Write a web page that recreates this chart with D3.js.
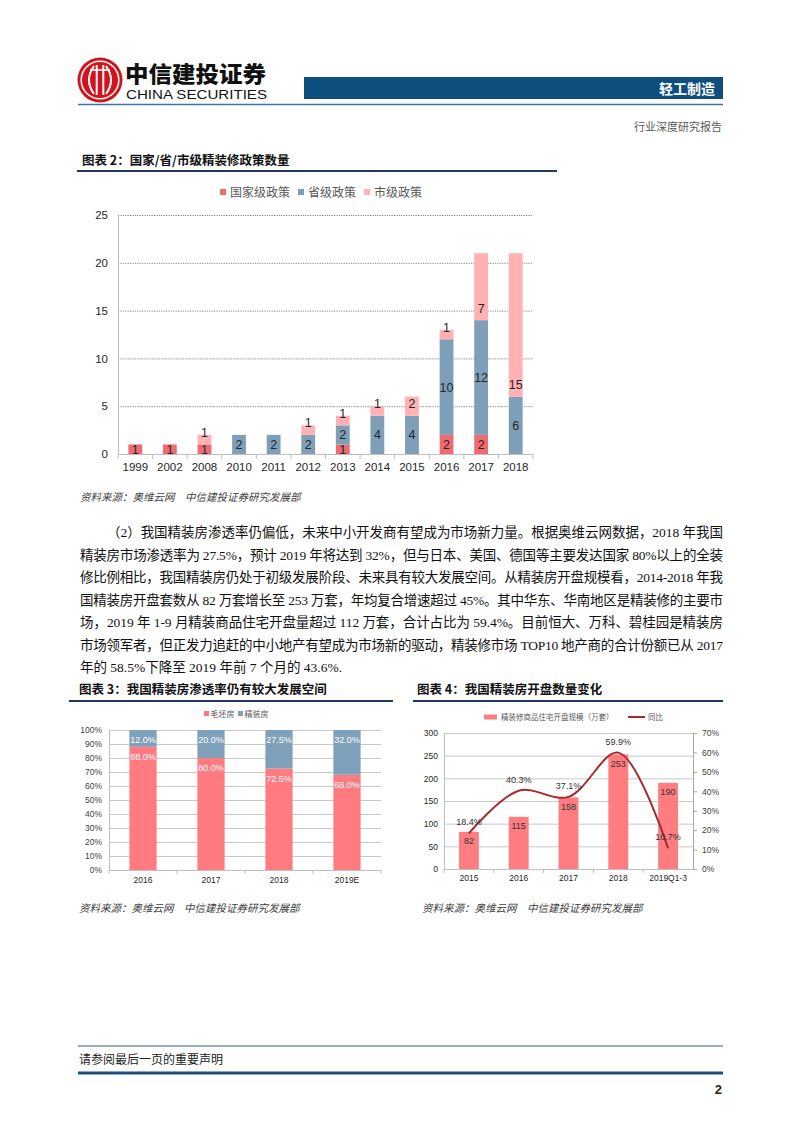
<!DOCTYPE html>
<html><head><meta charset="utf-8">
<script src="https://cdn.jsdelivr.net/npm/d3@7"></script>
<style>
html,body{margin:0;padding:0;background:#fff;}
svg{display:block;}
text{font-family:"Liberation Sans","Noto Sans CJK SC",sans-serif;}
text.cjk{font-family:"Noto Sans CJK SC",sans-serif;}
text.serif{font-family:"Liberation Serif","Noto Sans CJK SC",serif;}
</style></head><body>
<svg id="page" width="802" height="1133"></svg>
<script>
// ---------------- DATA ----------------
const policyYears = ["1999","2002","2008","2010","2011","2012","2013","2014","2015","2016","2017","2018"];
const nationalPolicies   = [1,1,1,0,0,0,1,0,0,2,2,0];
const provincialPolicies = [0,0,0,2,2,2,2,4,4,10,12,6];
const municipalPolicies  = [0,0,1,0,0,1,1,1,2,1,7,15];
const policyTicks = [0,5,10,15,20,25];
const policyLegend = ["国家级政策","省级政策","市级政策"];

const penYears = ["2016","2017","2018","2019E"];
const roughShare = [88.0,80.0,72.5,68.0];
const finishedShare = [12.0,20.0,27.5,32.0];
const penTicks = [0,10,20,30,40,50,60,70,80,90,100];
const penLegend = ["毛坯房","精装房"];

const openYears = ["2015","2016","2017","2018","2019Q1-3"];
const openVolume = [82,115,158,253,190];
const openYoY = [18.4,40.3,37.1,59.9,10.7];
const openLeftTicks = [0,50,100,150,200,250,300];
const openRightTicks = [0,10,20,30,40,50,60,70];
const openLegend = ["精装修商品住宅开盘规模（万套）","同比"];

const paragraphLines = [
 "（2）我国精装房渗透率仍偏低，未来中小开发商有望成为市场新力量。根据奥维云网数据，2018 年我国",
 "精装房市场渗透率为 27.5%，预计 2019 年将达到 32%，但与日本、美国、德国等主要发达国家 80%以上的全装",
 "修比例相比，我国精装房仍处于初级发展阶段、未来具有较大发展空间。从精装房开盘规模看，2014-2018 年我",
 "国精装房开盘套数从 82 万套增长至 253 万套，年均复合增速超过 45%。其中华东、华南地区是精装修的主要市",
 "场，2019 年 1-9 月精装商品住宅开盘量超过 112 万套，合计占比为 59.4%。目前恒大、万科、碧桂园是精装房",
 "市场领军者，但正发力追赶的中小地产有望成为市场新的驱动，精装修市场 TOP10 地产商的合计份额已从 2017",
 "年的 58.5%下降至 2019 年前 7 个月的 43.6%."
];
const sourceText = "资料来源：奥维云网　中信建投证券研究发展部";

// ---------------- PAGE ----------------
const svg = d3.select("#page");
svg.append("rect").attr("width",802).attr("height",1133).attr("fill","#fff");

// header logo
const hdr = svg.append("g");
hdr.append("circle").attr("cx",100).attr("cy",80).attr("r",22.5).attr("fill","#D3121B");
hdr.append("circle").attr("cx",100).attr("cy",80).attr("r",18.8).attr("fill","none").attr("stroke","#fff").attr("stroke-width",1.6);
[-3.3,3.3].forEach(dx=>hdr.append("line").attr("x1",100+dx).attr("x2",100+dx).attr("y1",65).attr("y2",95).attr("stroke","#fff").attr("stroke-width",2));
hdr.append("path").attr("d","M94,66 Q84,80 94,94").attr("fill","none").attr("stroke","#fff").attr("stroke-width",2);
hdr.append("path").attr("d","M106,66 Q116,80 106,94").attr("fill","none").attr("stroke","#fff").attr("stroke-width",2);
hdr.append("line").attr("x1",90).attr("x2",110).attr("y1",70).attr("y2",70).attr("stroke","#fff").attr("stroke-width",1.6);
hdr.append("text").attr("class","cjk").attr("x",125).attr("y",82).attr("font-size",22).attr("font-weight",900)
  .attr("textLength",141).attr("lengthAdjust","spacingAndGlyphs").attr("fill","#111").text("中信建投证券");
hdr.append("text").attr("x",126).attr("y",99).attr("font-size",12.5).style("font-family","'Liberation Sans Narrow','Liberation Sans',sans-serif")
  .attr("textLength",141).attr("lengthAdjust","spacingAndGlyphs").attr("fill","#111").text("CHINA SECURITIES");
hdr.append("rect").attr("x",304).attr("y",77).attr("width",419).attr("height",22).attr("fill","#0D4E7E");
hdr.append("text").attr("class","cjk").attr("x",715).attr("y",94).attr("text-anchor","end").attr("font-size",14).attr("font-weight",700).attr("fill","#fff").text("轻工制造");
hdr.append("line").attr("x1",78).attr("x2",723).attr("y1",104.5).attr("y2",104.5).attr("stroke","#3C74A8").attr("stroke-width",1.5);
hdr.append("text").attr("class","cjk").attr("x",722).attr("y",131).attr("text-anchor","end").attr("font-size",11).attr("fill","#595959").text("行业深度研究报告");

function sectionTitle(x, y, x1, x2, ly, txt){
  svg.append("text").attr("class","cjk").attr("x",x).attr("y",y).attr("font-size",12.5).attr("font-weight",700).attr("fill","#111").text(txt);
  svg.append("line").attr("x1",x1).attr("x2",x2).attr("y1",ly).attr("y2",ly).attr("stroke","#1F3864").attr("stroke-width",2);
}
function source(x,y){
  svg.append("text").attr("class","cjk").attr("x",x).attr("y",y).attr("font-size",10.5).attr("font-style","italic").attr("fill","#404040").text(sourceText);
}

// ---------------- CHART 2 ----------------
sectionTitle(82,165,77,557,171,"图表 2：国家/省/市级精装修政策数量");
const c2 = svg.append("g");
const c2Colors = ["#EF6B72","#7F9FB9","#FFB1B4"];
const c2Keys = ["national","provincial","municipal"];
const lg2x = [220,298,364];
policyLegend.forEach((t,i)=>{
  c2.append("rect").attr("x",lg2x[i]).attr("y",189).attr("width",6).attr("height",6).attr("fill",c2Colors[i]);
  c2.append("text").attr("class","cjk").attr("x",lg2x[i]+10).attr("y",196.5).attr("font-size",12).attr("fill","#595959").text(t);
});
const x2 = d3.scaleBand().domain(policyYears).range([118,533]).paddingInner(0.6).paddingOuter(0.3);
const y2 = d3.scaleLinear().domain([0,25]).range([454,215]);
c2.append("g").attr("transform","translate(118,0)")
  .call(d3.axisLeft(y2).tickValues(policyTicks.filter(d=>d>0)).tickSize(-415).tickFormat(""))
  .call(g=>g.select(".domain").remove())
  .selectAll("line").attr("stroke","#8C8C8C").attr("stroke-dasharray","1.3,1.1");
c2.append("g").attr("transform","translate(118,0)")
  .call(d3.axisLeft(y2).tickValues(policyTicks).tickSize(0).tickSizeOuter(0).tickPadding(10))
  .call(g=>g.select(".domain").attr("stroke","#BFBFBF"))
  .selectAll("text").attr("font-size",11.5).attr("fill","#262626");
c2.append("g").attr("transform","translate(0,454)")
  .call(d3.axisBottom(x2).tickSize(0).tickSizeOuter(0).tickPadding(9))
  .call(g=>g.select(".domain").attr("stroke","#BFBFBF"))
  .selectAll("text").attr("font-size",11.5).attr("fill","#262626");
const bounds2 = policyYears.map(d=>x2(d)+x2.bandwidth()/2-x2.step()/2).concat([x2(policyYears[policyYears.length-1])+x2.bandwidth()/2+x2.step()/2]);
c2.selectAll("line.tk").data(bounds2).join("line").attr("class","tk")
  .attr("x1",d=>d).attr("x2",d=>d).attr("y1",454).attr("y2",459).attr("stroke","#BFBFBF");
const policyTable = policyYears.map((y,i)=>({year:y,national:nationalPolicies[i],provincial:provincialPolicies[i],municipal:municipalPolicies[i]}));
const stack2 = d3.stack().keys(c2Keys)(policyTable);
stack2.forEach((s,si)=>{
  c2.append("g").selectAll("rect").data(s.filter(d=>d[1]-d[0]>0)).join("rect")
    .attr("x",d=>x2(d.data.year)).attr("width",x2.bandwidth())
    .attr("y",d=>y2(d[1])).attr("height",d=>y2(d[0])-y2(d[1])).attr("fill",c2Colors[si]);
});
stack2.forEach((s,si)=>{
  c2.append("g").selectAll("text").data(s.filter(d=>d[1]-d[0]>0)).join("text")
    .attr("x",d=>x2(d.data.year)+x2.bandwidth()/2)
    .attr("y",d=> si<2 ? (y2(d[0])+y2(d[1]))/2 : y2(d[0])-12)
    .attr("dy","0.36em").attr("text-anchor","middle").attr("font-size",12.5).attr("fill","#262626")
    .text(d=>d[1]-d[0]);
});
source(80,501);

// ---------------- PARAGRAPH ----------------
paragraphLines.forEach((t,i)=>{
  const x0 = i===0 ? 107 : 80;
  const tx = svg.append("text").attr("class","serif").attr("x",x0).attr("y",537+i*22.5)
    .attr("font-size",13.5).attr("fill","#111").text(t);
  if(i<paragraphLines.length-1) tx.attr("textLength",723-x0).attr("lengthAdjust","spacing");
});

// ---------------- CHART 3 ----------------
sectionTitle(79,694,69,393,701,"图表 3：我国精装房渗透率仍有较大发展空间");
const c3 = svg.append("g");
const c3Colors = ["#FF7B7F","#7FA0BA"];
const lg3x = [204,238];
penLegend.forEach((t,i)=>{
  c3.append("rect").attr("x",lg3x[i]).attr("y",711).attr("width",5).attr("height",5).attr("fill",c3Colors[i]);
  c3.append("text").attr("class","cjk").attr("x",lg3x[i]+6.5).attr("y",717).attr("font-size",8).attr("fill","#595959").text(t);
});
const x3 = d3.scaleBand().domain(penYears).range([109,381]).paddingInner(0.6).paddingOuter(0.3);
const y3 = d3.scaleLinear().domain([0,100]).range([870,730]);
c3.append("g").attr("transform","translate(109,0)")
  .call(d3.axisLeft(y3).tickValues(penTicks.filter(d=>d>0)).tickSize(-272).tickFormat(""))
  .call(g=>g.select(".domain").remove())
  .selectAll("line").attr("stroke","#C8C8C8");
c3.append("g").attr("transform","translate(109,0)")
  .call(d3.axisLeft(y3).tickValues(penTicks).tickSize(0).tickSizeOuter(0).tickPadding(7).tickFormat(d=>d+"%"))
  .call(g=>g.select(".domain").attr("stroke","#BFBFBF"))
  .selectAll("text").attr("font-size",8.5).attr("fill","#404040");
c3.append("g").attr("transform","translate(0,870)")
  .call(d3.axisBottom(x3).tickSize(0).tickSizeOuter(0).tickPadding(7))
  .call(g=>g.select(".domain").attr("stroke","#BFBFBF"))
  .selectAll("text").attr("font-size",8.5).attr("fill","#262626");
const bounds3 = penYears.map(d=>x3(d)+x3.bandwidth()/2-x3.step()/2).concat([381]);
c3.selectAll("line.tk").data(bounds3).join("line").attr("class","tk")
  .attr("x1",d=>d).attr("x2",d=>d).attr("y1",870).attr("y2",874).attr("stroke","#BFBFBF");
const penTable = penYears.map((y,i)=>({year:y,rough:roughShare[i],finished:finishedShare[i]}));
const stack3 = d3.stack().keys(["rough","finished"])(penTable);
stack3.forEach((s,si)=>{
  c3.append("g").selectAll("rect").data(s).join("rect")
    .attr("x",d=>x3(d.data.year)).attr("width",x3.bandwidth())
    .attr("y",d=>y3(d[1])).attr("height",d=>y3(d[0])-y3(d[1])).attr("fill",c3Colors[si]);
  c3.append("g").selectAll("text").data(s).join("text")
    .attr("x",d=>x3(d.data.year)+x3.bandwidth()/2).attr("y",d=>y3(d[1])+10)
    .attr("dy","0.36em").attr("text-anchor","middle").attr("font-size",9).attr("fill","#fff")
    .text(d=>(d[1]-d[0]).toFixed(1)+"%");
});
source(79,912);

// ---------------- CHART 4 ----------------
sectionTitle(417,694,413,723,701,"图表 4：我国精装房开盘数量变化");
const c4 = svg.append("g");
const barColor = "#FF7C80", lineColor = "#A52A2E";
c4.append("rect").attr("x",484).attr("y",714.5).attr("width",13).attr("height",5).attr("fill",barColor);
c4.append("text").attr("class","cjk").attr("x",501).attr("y",720).attr("font-size",7.5).attr("fill","#595959").text(openLegend[0]);
c4.append("line").attr("x1",628).attr("x2",645).attr("y1",717).attr("y2",717).attr("stroke",lineColor).attr("stroke-width",2);
c4.append("text").attr("class","cjk").attr("x",648).attr("y",720).attr("font-size",7.5).attr("fill","#595959").text(openLegend[1]);
const x4 = d3.scaleBand().domain(openYears).range([444,693]).paddingInner(0.6).paddingOuter(0.3);
const yL = d3.scaleLinear().domain([0,300]).range([869,733]);
const yR = d3.scaleLinear().domain([0,70]).range([869,733]);
c4.append("g").attr("transform","translate(444,0)")
  .call(d3.axisLeft(yL).tickValues(openLeftTicks.filter(d=>d>0)).tickSize(-249).tickFormat(""))
  .call(g=>g.select(".domain").remove())
  .selectAll("line").attr("stroke","#C8C8C8");
c4.append("g").attr("transform","translate(444,0)")
  .call(d3.axisLeft(yL).tickValues(openLeftTicks).tickSize(0).tickSizeOuter(0).tickPadding(6))
  .call(g=>g.select(".domain").attr("stroke","#BFBFBF"))
  .selectAll("text").attr("font-size",8.5).attr("fill","#262626");
c4.append("g").attr("transform","translate(693,0)")
  .call(d3.axisRight(yR).tickValues(openRightTicks).tickSize(4).tickSizeOuter(0).tickPadding(5).tickFormat(d=>d+"%"))
  .call(g=>g.selectAll(".domain,line").attr("stroke","#A6A6A6"))
  .selectAll("text").attr("font-size",8.5).attr("fill","#404040");
c4.append("g").attr("transform","translate(0,869)")
  .call(d3.axisBottom(x4).tickSize(0).tickSizeOuter(0).tickPadding(6))
  .call(g=>g.select(".domain").attr("stroke","#BFBFBF"))
  .selectAll("text").attr("font-size",8.5).attr("fill","#262626");
const bounds4 = openYears.map(d=>x4(d)+x4.bandwidth()/2-x4.step()/2);
c4.selectAll("line.tk").data(bounds4).join("line").attr("class","tk")
  .attr("x1",d=>d).attr("x2",d=>d).attr("y1",869).attr("y2",873).attr("stroke","#BFBFBF");
const cx4 = (d,i)=>x4(openYears[i])+x4.bandwidth()/2;
c4.append("g").selectAll("rect").data(openVolume).join("rect")
  .attr("x",(d,i)=>x4(openYears[i])).attr("width",x4.bandwidth())
  .attr("y",d=>yL(d)).attr("height",d=>yL(0)-yL(d)).attr("fill",barColor);
c4.append("path").datum(openYoY)
  .attr("d",d3.line().x(cx4).y(d=>yR(d)).curve(d3.curveCatmullRom.alpha(0.5)))
  .attr("fill","none").attr("stroke",lineColor).attr("stroke-width",2);
c4.append("g").selectAll("text").data(openVolume).join("text")
  .attr("x",cx4).attr("y",d=>yL(d)+9).attr("dy","0.36em").attr("text-anchor","middle")
  .attr("font-size",9).attr("fill","#333").text(d=>d);
c4.append("g").selectAll("text").data(openYoY).join("text")
  .attr("x",cx4).attr("y",d=>yR(d)-11).attr("dy","0.36em").attr("text-anchor","middle")
  .attr("font-size",9).attr("fill","#333").text(d=>d.toFixed(1)+"%");
source(422,912);

// ---------------- FOOTER ----------------
svg.append("line").attr("x1",78).attr("x2",723).attr("y1",1046).attr("y2",1046).attr("stroke","#2F5C8A").attr("stroke-width",1);
svg.append("text").attr("class","cjk").attr("x",79).attr("y",1064).attr("font-size",12).attr("fill","#222").text("请参阅最后一页的重要声明");
svg.append("line").attr("x1",78).attr("x2",723).attr("y1",1073).attr("y2",1073).attr("stroke","#1F4E79").attr("stroke-width",3);
svg.append("text").attr("x",722).attr("y",1094).attr("text-anchor","end").attr("font-size",13).attr("font-weight",700).attr("fill","#222").text("2");
</script></body></html>
